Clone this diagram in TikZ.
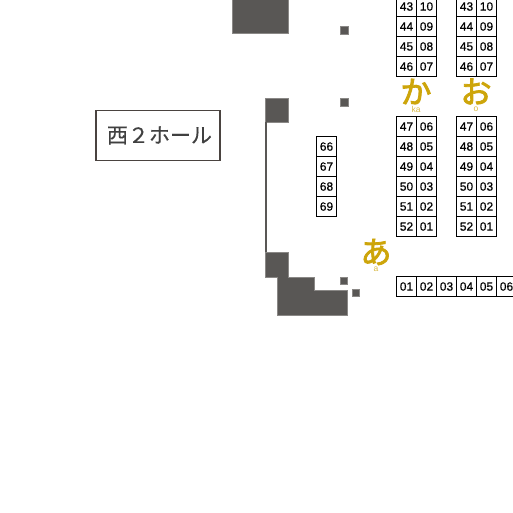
\documentclass[tikz,border=0pt]{standalone}
\usepackage{fontspec}
\setmainfont{Liberation Sans}
\newfontfamily\jpfont[FakeBold=0.4]{Noto Sans CJK JP}
\newfontfamily\kanafont[FakeBold=2.6]{Noto Sans CJK JP}
\newfontfamily\digitfont[FakeBold=0.5]{Liberation Sans}
\usetikzlibrary{positioning}
\definecolor{wall}{HTML}{595755}
\definecolor{walledge}{HTML}{8A8886}
\definecolor{hallline}{HTML}{4A4340}
\definecolor{kana}{HTML}{CDA50A}
\definecolor{kanalight}{HTML}{D9BA45}
\tikzset{
    %booth cell
    booth/.style={
           rectangle,
           draw=black, line width=1pt,
           minimum width=20pt,
           minimum height=20pt,
           inner sep=0pt,
           outer sep=0pt,
           font=\fontsize{12}{12}\digitfont,
           text centered},
    %walls and pillars
    wallblock/.style={
           fill=wall,
           draw=walledge, line width=.6pt},
    %aisle letters
    aisle/.style={
           inner sep=0pt,
           text=kana,
           font=\fontsize{31}{31}\kanafont},
    aislesub/.style={
           inner sep=0pt,
           text=kanalight,
           font=\fontsize{8.5}{8.5}\selectfont},
    hallbox/.style={
           rectangle,
           draw=hallline, line width=1.3pt,
           minimum width=124pt,
           minimum height=50pt,
           text=black!75,
           font=\fontsize{21}{21}\jpfont}
}
\begin{document}
\begin{tikzpicture}[x=1pt,y=-1pt]
\useasboundingbox (0,0) rectangle (513,513);
\clip (0,0) rectangle (513,513);
 %walls
\fill[white] (0,0) rectangle (513,513);
\draw[wallblock] (232,-5) rectangle (288,33);
\draw[wallblock] (265,98.5) rectangle (288,122);
\draw[wallblock] (265,252) -| (288,277) -| (314,290) -| (347.5,315.5) -| (277,277) -| cycle;
\draw[wallblock] (340,26) rectangle (348,34);
\draw[wallblock] (340,98) rectangle (348,106);
\draw[wallblock] (340,277.5) rectangle (347.5,284.5);
\draw[wallblock] (352,289.5) rectangle (359,296.5);
\draw[wall, line width=1.8pt] (265.7,122) -- (265.7,252);
 %hall name
\node[hallbox](hall) at (158,135.5){\hspace{3pt}西２ホール};
 %booths
\foreach \bn/\bx in {ka/406.5,o/466.5}{
  \foreach \l/\r/\y in {43/10/6.5,44/09/26.5,45/08/46.5,46/07/66.5,
      47/06/126.5,48/05/146.5,49/04/166.5,50/03/186.5,51/02/206.5,52/01/226.5}{
    \node[booth](\bn-\l) at (\bx,\y){\l};
    \node[booth, right=0pt of \bn-\l](\bn-\r){\r};
  }
}
\foreach \n/\y in {66/146.5,67/166.5,68/186.5,69/206.5}
  \node[booth](w-\n) at (326.5,\y){\n};
\node[booth](a-01) at (406.5,286.5){01};
\foreach \p/\n in {01/02,02/03,03/04,04/05,05/06}
  \node[booth, right=0pt of a-\p](a-\n){\n};
 %aisle letters
\node[aisle](ka) at (416,91.5){か};
\node[aislesub](kasub) at (416,109.5){ka};
\node[aisle](o) at (476,91.5){お};
\node[aislesub](osub) at (476,109.5){o};
\node[aisle](a) at (376,252){あ};
\node[aislesub](asub) at (376,269.5){a};
\end{tikzpicture}
\end{document}
